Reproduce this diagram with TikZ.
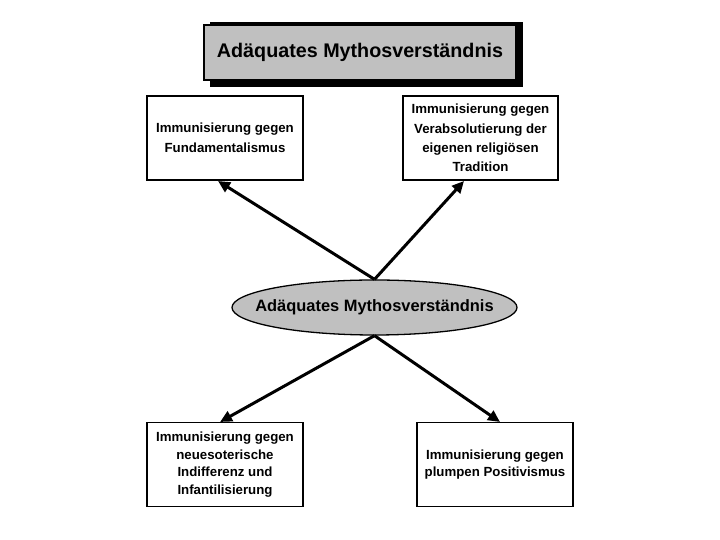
\documentclass[tikz,border=0pt]{standalone}
\usepackage{fontspec}
\setmainfont{Liberation Sans}
\usetikzlibrary{arrows.meta,shapes.geometric}
\definecolor{boxgray}{HTML}{C0C0C0}
\tikzset{
  textbox/.style={draw=black, line width=1.3pt, fill=white, minimum width=156bp, minimum height=84bp, align=center, inner sep=2pt, font=\bfseries\fontsize{13.3}{20}\selectfont},
  tightbox/.style={textbox, font=\bfseries\fontsize{13.3}{17.8}\selectfont},
  arr/.style={line width=3pt, -{Triangle[length=12bp,width=11bp]}},
}
\begin{document}
\begin{tikzpicture}[x=1bp,y=1bp]
\useasboundingbox (0,0) rectangle (720,540);
% title with shadow
\fill[black] (210,453) rectangle (523,518);
\node[draw=black, line width=1.6pt, fill=boxgray, minimum width=312bp, minimum height=55bp, font=\bfseries\fontsize{19.8}{23}\selectfont, inner sep=0pt] (title) at (360,487.5) {Adäquates Mythosverständnis};
% boxes
\node[textbox] (tl) at (225,402) {Immunisierung gegen\\Fundamentalismus};
\node[textbox, minimum width=155bp, font=\bfseries\fontsize{13.3}{19.5}\selectfont] (tr) at (480.5,402) {Immunisierung gegen\\Verabsolutierung der\\eigenen religiösen\\Tradition};
\node[tightbox] (bl) at (225,75.5) {Immunisierung gegen\\neuesoterische\\Indifferenz und\\Infantilisierung};
\node[tightbox] (br) at (495,75.5) {Immunisierung gegen\\plumpen Positivismus};
% ellipse
\node[ellipse, draw=black, line width=1.3pt, fill=boxgray, minimum width=285bp, minimum height=55bp, inner sep=0pt] (e) at (374.5,232.5) {};
\node[font=\bfseries\fontsize{16.5}{20}\selectfont, inner sep=0pt] (etext) at (e.center) {Adäquates Mythosverständnis};
% arrow ends
\coordinate (tlin) at (218,359);
\coordinate (trin) at (464,359);
\coordinate (blin) at (220,118);
\coordinate (brin) at (500,118);
\draw[arr] (e.north) -- (tlin);
\draw[arr] (e.north) -- (trin);
\draw[arr] (e.south) -- (blin);
\draw[arr] (e.south) -- (brin);
\end{tikzpicture}
\end{document}
